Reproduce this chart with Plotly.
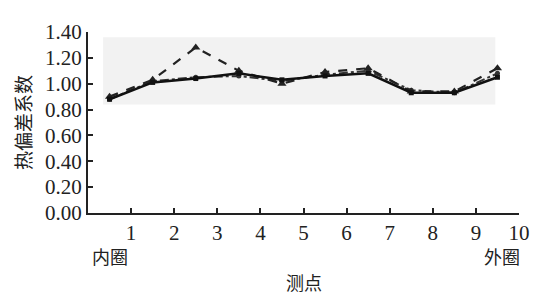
import plotly.graph_objects as go

points = [0.5, 1.5, 2.5, 3.5, 4.5, 5.5, 6.5, 7.5, 8.5, 9.5]
series_a = [0.88, 1.01, 1.04, 1.08, 1.03, 1.06, 1.08, 0.93, 0.93, 1.05]
series_b = [0.90, 1.03, 1.28, 1.10, 1.00, 1.09, 1.12, 0.94, 0.94, 1.12]
series_c = [0.88, 1.02, 1.05, 1.06, 1.02, 1.07, 1.10, 0.95, 0.93, 1.08]
x_ticks = [1, 2, 3, 4, 5, 6, 7, 8, 9, 10]
y_ticks = [0.0, 0.2, 0.4, 0.6, 0.8, 1.0, 1.2, 1.4]

serif = "Liberation Serif, Times New Roman, serif"
cjk = "Noto Sans CJK SC"

fig = go.Figure()
fig.add_trace(go.Scatter(x=points, y=series_c, mode="lines+markers",
                         line=dict(color="#333333", width=2, dash="dashdot"),
                         marker=dict(symbol="circle", size=5, color="#333333")))
fig.add_trace(go.Scatter(x=points, y=series_b, mode="lines+markers",
                         line=dict(color="#222222", width=2.2, dash="dash"),
                         marker=dict(symbol="triangle-up", size=8, color="#222222")))
fig.add_trace(go.Scatter(x=points, y=series_a, mode="lines+markers",
                         line=dict(color="#111111", width=2.5),
                         marker=dict(symbol="square", size=5, color="#111111")))

fig.add_shape(type="rect", xref="x", yref="y", x0=0.35, x1=9.45, y0=0.84, y1=1.36,
              fillcolor="#f2f2f2", line=dict(width=0), layer="below")

fig.update_layout(
    width=534, height=287,
    margin=dict(l=80, r=19, t=17, b=82),
    paper_bgcolor="white", plot_bgcolor="white",
    showlegend=False,
    font=dict(family=serif, size=21, color="#222222"),
    xaxis=dict(range=[0, 10], tickvals=x_ticks, ticks="inside", ticklen=5,
               tickwidth=1.5, tickcolor="#222222", showline=True, linecolor="#222222",
               linewidth=2, showgrid=False, zeroline=False,
               tickfont=dict(family=serif, size=21)),
    yaxis=dict(range=[0, 1.4], tickvals=y_ticks, tickformat=".2f", ticks="inside",
               ticklen=5, tickwidth=1.5, tickcolor="#222222", showline=True,
               linecolor="#222222", linewidth=2, showgrid=False, zeroline=False,
               tickfont=dict(family=serif, size=21),
               title=dict(text="热偏差系数", font=dict(family=cjk, size=19), standoff=8)),
    annotations=[
        dict(text="内圈", x=0.5, y=0, xref="x", yref="paper", yanchor="top", yshift=-28,
             showarrow=False, font=dict(family=cjk, size=18)),
        dict(text="外圈", x=9.6, y=0, xref="x", yref="paper", yanchor="top", yshift=-28,
             showarrow=False, font=dict(family=cjk, size=18)),
        dict(text="测点", x=5, y=0, xref="x", yref="paper", yanchor="middle", yshift=-69,
             showarrow=False, font=dict(family=cjk, size=18)),
    ],
)

fig.write_html("out.html")
